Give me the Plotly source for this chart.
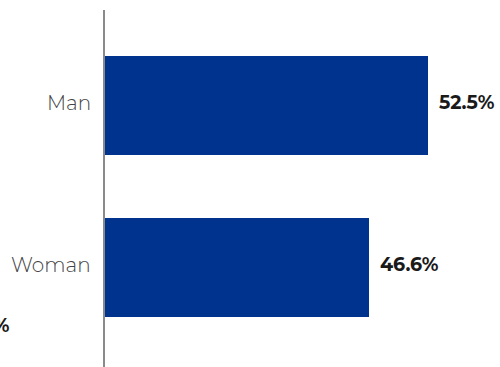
import plotly.graph_objects as go

# Share of respondents by gender
categories = ["Man", "Woman"]
shares = [52.5, 46.6]
other_share = [0.9]

bar_color = "#00338D"
label_font = "Montserrat, Inter, 'Open Sans', sans-serif"

positions = list(range(len(categories)))

fig = go.Figure(
    go.Bar(
        x=shares,
        y=positions,
        orientation="h",
        width=0.61,
        marker=dict(color=bar_color, line=dict(width=0)),
        hoverinfo="skip",
    )
)

# category names to the left of the axis line
for pos, name in zip(positions, categories):
    fig.add_annotation(
        x=0, y=pos, xref="paper", yref="y",
        text=name,
        showarrow=False, xanchor="right", yanchor="middle",
        xshift=-12, yshift=3,
        font=dict(family=label_font, size=20, color="#444444", weight=300),
    )

# value labels just right of each bar end
for pos, val in zip(positions, shares):
    fig.add_annotation(
        x=val, y=pos, xref="x", yref="y",
        text=f"<b>{val:.1f}%</b>",
        showarrow=False, xanchor="left", yanchor="middle",
        xshift=9, yshift=3,
        font=dict(family=label_font, size=19, color="#1a1a1a"),
    )

# remaining category label, sitting left of the axis
fig.add_annotation(
    x=-0.235, y=1.358, xref="paper", yref="y",
    text=f"<b>{other_share[0]:.1f}%</b>",
    showarrow=False, xanchor="right", yanchor="middle",
    font=dict(family=label_font, size=19, color="#1a1a1a"),
)

fig.update_layout(
    width=500, height=367,
    margin=dict(l=105, r=0, t=10, b=0),
    paper_bgcolor="white", plot_bgcolor="white",
    showlegend=False,
    bargap=0,
    xaxis=dict(
        range=[20.2, 59.7], visible=False, showgrid=False, zeroline=False,
    ),
    yaxis=dict(
        range=[1.614, -0.5895],
        tickvals=positions, showticklabels=False,
        showline=True, linecolor="#8a8a8a", linewidth=2,
        showgrid=False, zeroline=False, ticks="",
    ),
)

fig.write_html("out.html")
